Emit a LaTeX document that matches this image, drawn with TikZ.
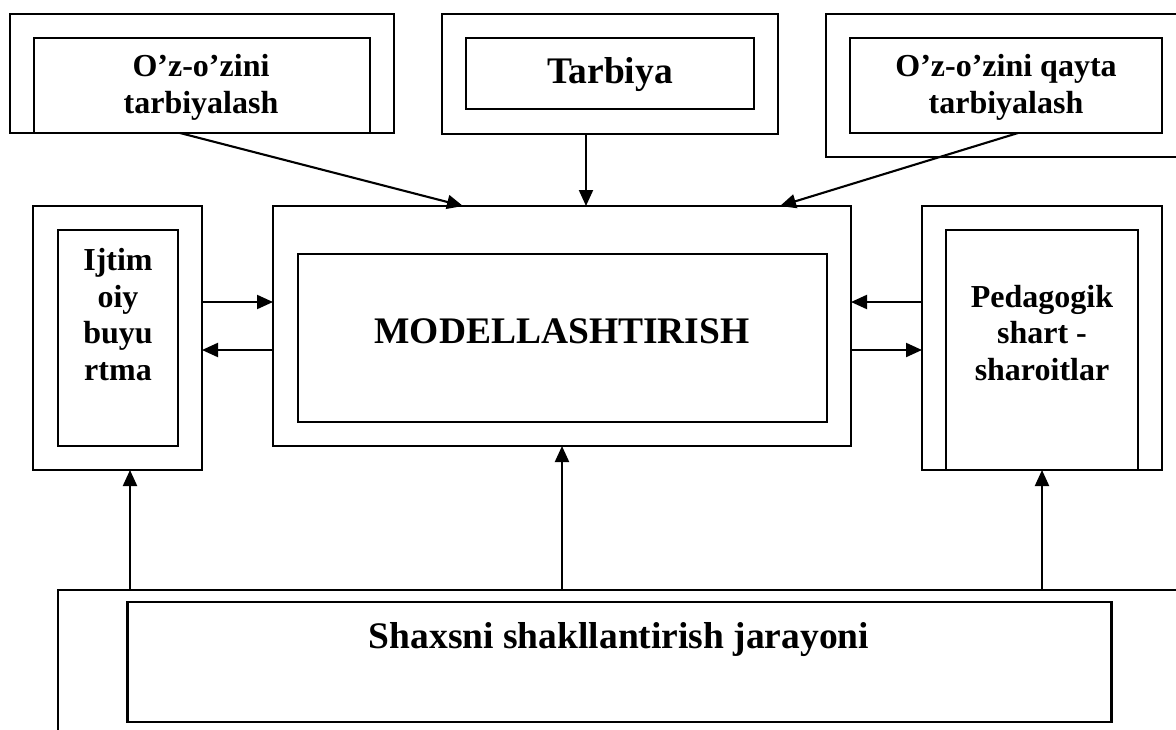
\documentclass[tikz,border=0pt]{standalone}
\usepackage{fontspec}
\setmainfont{Liberation Serif}
\usetikzlibrary{calc,arrows.meta}
\tikzset{
  frame/.style={draw, line width=2.1pt, rectangle, inner sep=0pt, outer sep=0pt},
  arr/.style={line width=2.1pt, -{Triangle[length=16pt,width=14pt]}},
  bigtxt/.style={font=\fontsize{37.5}{44}\selectfont\bfseries, anchor=base, inner sep=0pt},
  smalltxt/.style={font=\fontsize{32}{37}\selectfont\bfseries, anchor=base, inner sep=0pt}
}
\begin{document}
\begin{tikzpicture}[x=1pt,y=-1pt]
\clip (0,0) rectangle (1176,729);
\fill[white] (0,0) rectangle (1176,729);
% top left
\node[frame, minimum width=384pt, minimum height=119pt] (LTo) at (202,73.5) {};
\node[frame, minimum width=336pt, minimum height=95pt] (LTi) at (202,85.5) {};
\node[smalltxt] (LT1) at (201,76) {O’z-o’zini};
\node[smalltxt] (LT2) at (201,113) {tarbiyalash};
% top middle
\node[frame, minimum width=336pt, minimum height=120pt] (MTo) at (610,74) {};
\node[frame, minimum width=288pt, minimum height=71pt] (MTi) at (610,73.5) {};
\node[bigtxt] (MT1) at (610,83) {Tarbiya};
% top right
\node[frame, minimum width=374pt, minimum height=143pt] (RTo) at (1013,85.5) {};
\node[frame, minimum width=312pt, minimum height=95pt] (RTi) at (1006,85.5) {};
\node[smalltxt] (RT1) at (1006,76) {O’z-o’zini qayta};
\node[smalltxt] (RT2) at (1006,113) {tarbiyalash};
% middle left
\node[frame, minimum width=169pt, minimum height=264pt] (LMo) at (117.5,338) {};
\node[frame, minimum width=120pt, minimum height=216pt] (LMi) at (118,338) {};
\node[smalltxt] (LM1) at (118,270) {Ijtim};
\node[smalltxt] (LM2) at (118,307) {oiy};
\node[smalltxt] (LM3) at (118,343) {buyu};
\node[smalltxt] (LM4) at (118,380) {rtma};
% middle
\node[frame, minimum width=578pt, minimum height=240pt] (Mo) at (562,326) {};
\node[frame, minimum width=529pt, minimum height=168pt] (Mi) at (562.5,338) {};
\node[bigtxt] (M1) at (562,343) {MODELLASHTIRISH};
% middle right
\node[frame, minimum width=240pt, minimum height=264pt] (RMo) at (1042,338) {};
\node[frame, minimum width=192pt, minimum height=240pt] (RMi) at (1042,350) {};
\node[smalltxt] (RM1) at (1042,307) {Pedagogik};
\node[smalltxt] (RM2) at (1042,343) {shart -};
\node[smalltxt] (RM3) at (1042,380) {sharoitlar};
% bottom
\node[frame, minimum width=1142pt, minimum height=170pt] (Bo) at (629,675) {};
\node[frame, minimum width=984pt, minimum height=120pt] (Bi) at (619.5,662) {};
\node[bigtxt] (B1) at (619,648) {Shaxsni shakllantirish jarayoni};
% arrows from top
\draw[arr] ($(LTi.south west)+(146,0)$) -- ($(Mo.north west)+(190,0)$);
\draw[arr] ($(MTo.south west)+(144,0)$) -- ($(Mo.north west)+(313,0)$);
\draw[arr] ($(RTi.south west)+(168,0)$) -- ($(Mo.north west)+(507,0)$);
% side arrows
\draw[arr] ($(LMo.north east)+(0,96)$) -- ($(Mo.north west)+(0,96)$);
\draw[arr] ($(Mo.north west)+(0,144)$) -- ($(LMo.north east)+(0,144)$);
\draw[arr] ($(RMo.north west)+(0,96)$) -- ($(Mo.north east)+(0,96)$);
\draw[arr] ($(Mo.north east)+(0,144)$) -- ($(RMo.north west)+(0,144)$);
% bottom arrows
\draw[arr] ($(Bo.north west)+(72,0)$) -- ($(LMo.south west)+(97,0)$);
\draw[arr] ($(Bo.north west)+(504,0)$) -- (Mo.south);
\draw[arr] ($(Bo.north west)+(984,0)$) -- (RMo.south);
\end{tikzpicture}
\end{document}
